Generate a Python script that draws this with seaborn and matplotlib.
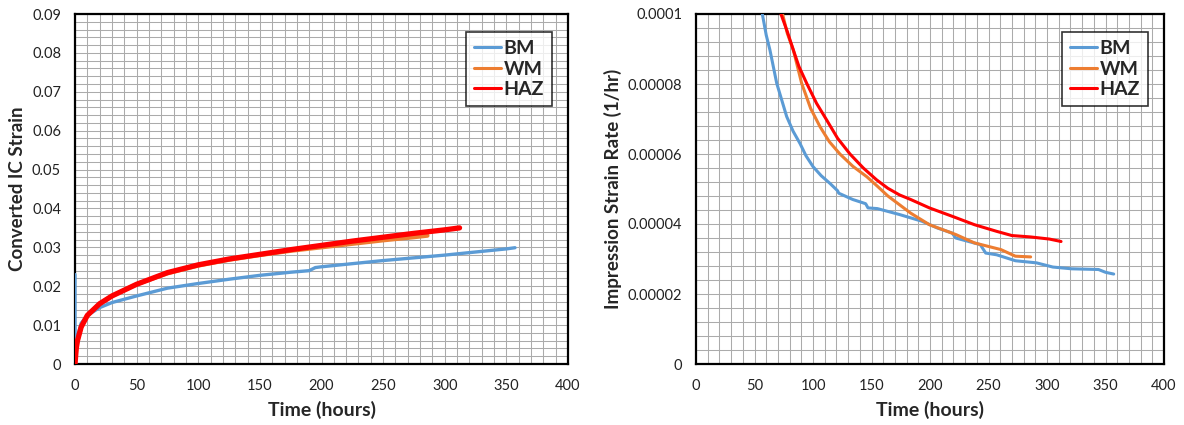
import numpy as np
import pandas as pd
import matplotlib
matplotlib.use("Agg")
import matplotlib.pyplot as plt
import seaborn as sns
from matplotlib.ticker import MultipleLocator, FuncFormatter
from matplotlib.lines import Line2D

sns.set_theme(style="white")
plt.rcParams["font.family"] = ["Lato", "DejaVu Sans"]

# ---- Converted IC strain vs time ----
bm_strain_t = [0, 0, 0.5, 1, 2, 5, 10, 20, 30, 50, 75, 100, 125, 150, 175, 190,
               195, 200, 225, 250, 275, 300, 325, 350, 357]
bm_strain = [0.023, 0.0, 0.004, 0.005, 0.007, 0.0105, 0.0125, 0.0145, 0.0158,
             0.0175, 0.0195, 0.0207, 0.0218, 0.0228, 0.0236, 0.0240, 0.0248,
             0.0250, 0.0258, 0.0266, 0.0273, 0.0280, 0.0288, 0.0296, 0.0299]

wm_strain_t = [0, 1, 2, 5, 10, 20, 30, 50, 75, 100, 125, 150, 175, 200, 225,
               250, 275, 286]
wm_strain = [0.0, 0.004, 0.006, 0.0095, 0.0125, 0.0155, 0.0175, 0.0205, 0.0233,
             0.0253, 0.0268, 0.0280, 0.0291, 0.0300, 0.0309, 0.0318, 0.0326,
             0.0330]

haz_strain_t = [0, 1, 2, 5, 10, 20, 30, 50, 75, 100, 125, 150, 175, 200, 225,
                250, 275, 300, 312]
haz_strain = [0.0, 0.004, 0.006, 0.0095, 0.0125, 0.0155, 0.0175, 0.0205, 0.0235,
              0.0255, 0.0270, 0.0282, 0.0294, 0.0305, 0.0316, 0.0326, 0.0336,
              0.0345, 0.0350]

# ---- Impression strain rate vs time ----
bm_rate_t = [56.7, 60, 63.2, 69, 77.5, 83, 88.9, 94, 100, 107, 114.5, 121, 122,
             134, 145, 147, 155, 174, 193, 206, 219, 222, 243, 247.6, 257, 273,
             291, 305, 321, 344, 350, 357]
bm_rate = [1.0e-4, 9.4e-5, 8.97e-5, 8.02e-5, 7.07e-5, 6.65e-5, 6.3e-5, 5.95e-5,
           5.64e-5, 5.38e-5, 5.16e-5, 4.95e-5, 4.88e-5, 4.70e-5, 4.58e-5,
           4.46e-5, 4.44e-5, 4.27e-5, 4.08e-5, 3.89e-5, 3.74e-5, 3.60e-5,
           3.41e-5, 3.17e-5, 3.12e-5, 2.95e-5, 2.89e-5, 2.77e-5, 2.72e-5,
           2.70e-5, 2.62e-5, 2.57e-5]

wm_rate_t = [74, 78, 83.2, 90.3, 98, 106, 114, 123, 134, 146, 155, 164, 183.5,
             199.5, 222, 238, 260.5, 273, 286]
wm_rate = [1.0e-4, 9.45e-5, 8.97e-5, 8.02e-5, 7.3e-5, 6.78e-5, 6.35e-5, 6.0e-5,
           5.65e-5, 5.35e-5, 5.08e-5, 4.8e-5, 4.31e-5, 3.98e-5, 3.70e-5,
           3.46e-5, 3.27e-5, 3.08e-5, 3.06e-5]

haz_rate_t = [72.6, 78, 83.2, 88, 94.6, 103, 111.7, 121, 131.6, 143, 154.4, 164,
              174, 183.5, 199.5, 219, 238, 257, 270, 286, 302, 312]
haz_rate = [1.0e-4, 9.5e-5, 8.97e-5, 8.5e-5, 8.02e-5, 7.45e-5, 6.97e-5, 6.45e-5,
            6.0e-5, 5.6e-5, 5.26e-5, 5.02e-5, 4.83e-5, 4.7e-5, 4.46e-5, 4.22e-5,
            3.98e-5, 3.79e-5, 3.67e-5, 3.63e-5, 3.57e-5, 3.50e-5]

series = ["BM", "WM", "HAZ"]
colors = {"BM": "#5B9BD5", "WM": "#ED7D31", "HAZ": "#FF0000"}


def long_frame(pairs):
    rows = []
    for name, (t, v) in zip(series, pairs):
        for ti, vi in zip(t, v):
            rows.append({"Time": ti, "Value": vi, "Material": name})
    return pd.DataFrame(rows)


strain_df = long_frame([(bm_strain_t, bm_strain), (wm_strain_t, wm_strain),
                        (haz_strain_t, haz_strain)])
rate_df = long_frame([(bm_rate_t, bm_rate), (wm_rate_t, wm_rate),
                      (haz_rate_t, haz_rate)])

W, H = 1184, 425
fig = plt.figure(figsize=(W / 100, H / 100), dpi=100)
ax1 = fig.add_axes([75 / W, (H - 364) / H, 493 / W, 350 / H])
ax2 = fig.add_axes([696 / W, (H - 364) / H, 468 / W, 350 / H])

strain_widths = {"BM": 2.4, "WM": 3.0, "HAZ": 3.8}
for name in series:
    sub = strain_df[strain_df["Material"] == name]
    sns.lineplot(data=sub, x="Time", y="Value", ax=ax1, color=colors[name],
                 lw=strain_widths[name], estimator=None, sort=False,
                 legend=False, zorder=3)
for name in series:
    sub = rate_df[rate_df["Material"] == name]
    sns.lineplot(data=sub, x="Time", y="Value", ax=ax2, color=colors[name],
                 lw=2.2, estimator=None, sort=False, legend=False, zorder=3)


def style_axes(ax, ymax, ymajor, yminor, ylabel, fmt, ylabel_x, width_px):
    ax.set_xlim(0, 400)
    ax.set_ylim(0, ymax)
    ax.xaxis.set_major_locator(MultipleLocator(50))
    ax.xaxis.set_minor_locator(MultipleLocator(10))
    ax.yaxis.set_major_locator(MultipleLocator(ymajor))
    ax.yaxis.set_minor_locator(MultipleLocator(yminor))
    ax.yaxis.set_major_formatter(FuncFormatter(fmt))
    ax.grid(which="both", color="#ababab", lw=0.75, zorder=0)
    ax.set_axisbelow(True)
    ax.tick_params(which="both", length=0, labelsize=10.5, colors="#222222")
    ax.tick_params(axis="y", pad=10)
    ax.tick_params(axis="x", pad=11)
    for sp in ax.spines.values():
        sp.set_color("black")
        sp.set_linewidth(1.6)
    ax.set_xlabel("Time (hours)", fontsize=14, fontweight="bold")
    ax.set_ylabel(ylabel, fontsize=13.5, fontweight="bold")
    ax.xaxis.set_label_coords(0.5, -0.105)
    ax.yaxis.set_label_coords(ylabel_x, 0.5)
    handles = [Line2D([], [], color=colors[n], lw=2.2) for n in series]
    leg = ax.legend(handles, series, loc="upper right",
                    bbox_to_anchor=(1 - 16 / width_px, (364 - 32) / 350),
                    borderaxespad=0, frameon=True, fancybox=False,
                    handlelength=1.35, handletextpad=0.15, borderpad=0.42,
                    labelspacing=0.18, prop={"size": 14, "weight": "bold"})
    leg.get_frame().set_edgecolor("black")
    leg.get_frame().set_linewidth(1.2)
    leg.set_zorder(5)


def strain_fmt(v, _):
    return "0" if abs(v) < 1e-12 else f"{v:.2f}"


def rate_fmt(v, _):
    if abs(v) < 1e-15:
        return "0"
    return f"{v:.5f}".rstrip("0")


style_axes(ax1, 0.09, 0.01, 0.002, "Converted IC Strain", strain_fmt, -0.10,
           493)
style_axes(ax2, 0.0001, 0.00002, 0.000004, "Impression Strain Rate (1/hr)",
           rate_fmt, -0.158, 468)

fig.savefig("out.png", dpi=100, facecolor="white")
